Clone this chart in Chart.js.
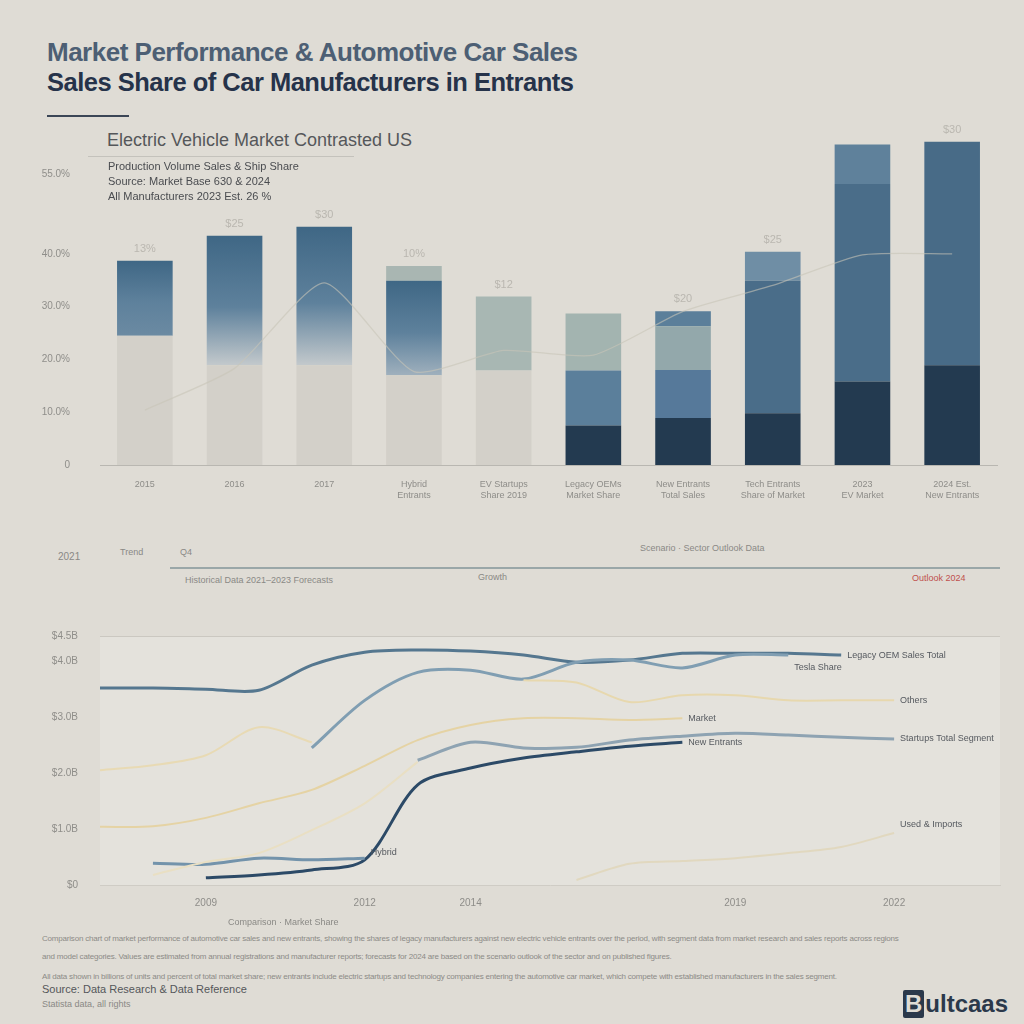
<!DOCTYPE html>
<html>
<head>
<meta charset="utf-8">
<script src="https://cdn.jsdelivr.net/npm/chart.js@4.4.1/dist/chart.umd.min.js"></script>
<style>
  html, body { margin: 0; padding: 0; }
  body { width: 1024px; height: 1024px; background: #dfdcd5; position: relative; overflow: hidden;
         font-family: "Liberation Sans", Arial, sans-serif; }
  .abs { position: absolute; white-space: nowrap; }
  #title1 { left: 47px; top: 37px; font-size: 26px; color: #4d5f74; font-weight: 600; letter-spacing: -0.5px; }
  #title2 { left: 47px; top: 68px; font-size: 25.5px; color: #26334a; font-weight: 700; letter-spacing: -0.5px; }
  #rule { left: 47px; top: 115px; width: 82px; height: 2px; background: #3b4656; }
  #subtitle { left: 107px; top: 130px; font-size: 18px; color: #55575a; }
  #subrule { left: 88px; top: 156px; width: 266px; height: 1px; background: #c4c2bc; }
  .legendline { left: 108px; font-size: 11px; color: #4a4c50; }
  #timeline { left: 170px; top: 567px; width: 830px; height: 2px; background: #9aa7a8; }
  .tiny { font-size: 9px; color: #8a8985; }
  .para { left: 42px; font-size: 8px; color: #8c8b87; letter-spacing: -0.2px; }
  #logo { left: 903px; top: 990px; font-size: 24px; font-weight: 700; color: #2b394b; }
  #logo span.box { display: inline-block; background: #2b394b; color: #dfdcd5; padding: 0 2px; border-radius: 2px; margin-right: 1px; }
</style>
</head>
<body>
<div class="abs" id="title1">Market Performance &amp; Automotive Car Sales</div>
<div class="abs" id="title2">Sales Share of Car Manufacturers in Entrants</div>
<div class="abs" id="rule"></div>
<div class="abs" id="subtitle">Electric Vehicle Market Contrasted US</div>
<div class="abs" id="subrule"></div>

<canvas id="barChart" class="abs" style="left:20px;top:107px" width="990" height="398"></canvas>

<div class="abs legendline" style="top:160px">Production Volume Sales &amp; Ship Share</div>
<div class="abs legendline" style="top:175px">Source: Market Base 630 &amp; 2024</div>
<div class="abs legendline" style="top:190px">All Manufacturers 2023 Est. 26 %</div>

<div class="abs tiny" style="left:58px;top:551px;font-size:10px">2021</div>
<div class="abs tiny" style="left:120px;top:547px">Trend</div>
<div class="abs tiny" style="left:180px;top:547px">Q4</div>
<div class="abs tiny" style="left:185px;top:575px">Historical Data 2021–2023 Forecasts</div>
<div class="abs tiny" style="left:640px;top:543px">Scenario · Sector Outlook Data</div>
<div class="abs tiny" style="left:478px;top:572px">Growth</div>
<div class="abs" id="timeline"></div>
<div class="abs tiny" style="left:912px;top:573px;color:#c0504d">Outlook 2024</div>

<canvas id="lineChart" class="abs" style="left:0px;top:608px" width="1024" height="312"></canvas>

<div class="abs tiny" style="left:228px;top:917px">Comparison · Market Share</div>
<div class="abs para" style="top:934px">Comparison chart of market performance of automotive car sales and new entrants, showing the shares of legacy manufacturers against new electric vehicle entrants over the period, with segment data from market research and sales reports across regions</div>
<div class="abs para" style="top:952px">and model categories. Values are estimated from annual registrations and manufacturer reports; forecasts for 2024 are based on the scenario outlook of the sector and on published figures.</div>
<div class="abs para" style="top:972px">All data shown in billions of units and percent of total market share; new entrants include electric startups and technology companies entering the automotive car market, which compete with established manufacturers in the sales segment.</div>
<div class="abs" style="left:42px;top:983px;font-size:11px;color:#55575a">Source: Data Research &amp; Data Reference</div>
<div class="abs tiny" style="left:42px;top:999px">Statista data, all rights</div>
<div class="abs" id="logo"><span class="box">B</span>ultcaas</div>

<script>
// top chart: stacked bars
const barCategories = ['2015', '2016', '2017', ['Hybrid', 'Entrants'], ['EV Startups', 'Share 2019'],
  ['Legacy OEMs', 'Market Share'], ['New Entrants', 'Total Sales'], ['Tech Entrants', 'Share of Market'],
  ['2023', 'EV Market'], ['2024 Est.', 'New Entrants']];
const navySeg = [0, 0, 0, 0, 0, 0.75, 0.89, 0.98, 1.58, 1.89];
const beigeSeg = [2.45, 1.89, 1.89, 1.70, 1.79, 0, 0, 0, 0, 0];
const blueSeg = [1.42, 2.45, 2.62, 1.79, 0, 1.04, 0.91, 2.51, 3.74, 4.23];
const sageSeg = [0, 0, 0, 0.28, 1.40, 1.08, 0.83, 0, 0, 0];
const topSeg = [0, 0, 0, 0, 0, 0, 0.28, 0.55, 0.75, 0];
const trendLine = [1.04, 1.83, 3.45, 1.77, 2.17, 2.08, 2.91, 3.40, 3.98, 4.0];
const barLabels = ['13%', '$25', '$30', '10%', '$12', '', '$20', '$25', '', '$30'];
const barTicks = [0, 1, 2, 3, 4, 5.5];
const barTickLabels = ['0', '10.0%', '20.0%', '30.0%', '40.0%', '55.0%'];

// bottom chart: lines
const lineYears = ['2007', '2008', '2009', '2010', '2011', '2012', '2013', '2014', '2015',
  '2016', '2017', '2018', '2019', '2020', '2021', '2022', '2023', '2024'];
const shownYears = [2, 5, 7, 12, 15];
const legacySales = [3.52, 3.52, 3.50, 3.48, 3.93, 4.16, 4.20, 4.18, 4.11, 3.98, 4.02, 4.14, 4.14, 4.14, 4.11, null, null, null];
const teslaSales = [null, null, null, null, 2.45, 3.30, 3.80, 3.84, 3.68, 3.98, 4.02, 3.88, 4.11, 4.11, null, null, null, null];
const entrantSales = [null, null, 0.13, 0.18, 0.27, 0.45, 1.79, 2.09, 2.27, 2.38, 2.48, 2.55, null, null, null, null, null, null];
const hybridSales = [null, 0.39, 0.37, 0.48, 0.45, 0.48, null, null, null, null, null, null, null, null, null, null, null, null];
const startupSales = [null, null, null, null, null, null, 2.23, 2.55, 2.45, 2.46, 2.59, 2.66, 2.71, 2.68, 2.64, 2.61, null, null];
const dieselSales = [2.05, 2.14, 2.32, 2.82, 2.55, null, null, null, null, null, null, null, null, null, null, null, null, null];
const importSales = [1.04, 1.05, 1.20, 1.46, 1.70, 2.13, 2.59, 2.86, 2.98, 2.98, 2.95, 2.98, null, null, null, null, null, null];
const leaseSales = [null, 0.18, 0.41, 0.57, 0.98, 1.46, 2.20, null, null, null, null, null, null, null, null, null, null, null];
const otherSales = [null, null, null, null, null, null, null, null, 3.66, 3.62, 3.27, 3.39, 3.39, 3.30, 3.30, 3.30, null, null];
const usedSales = [null, null, null, null, null, null, null, null, null, 0.09, 0.38, 0.43, 0.48, 0.57, 0.68, 0.93, null, null];
const lineTicks = [0, 1, 2, 3, 4, 4.45];
const lineTickLabels = ['$0', '$1.0B', '$2.0B', '$3.0B', '$4.0B', '$4.5B'];

const blueFade = ['#6b8aa2', '#c3c9cc', '#c3c9cc', '#9fb0bd'];
const blueSolid = ['', '', '', '', '#5b7f9b', '#5b7f9b', '#56799a', '#4a6d89', '#4a6d89', '#486b87'];
const sageColors = ['', '', '', '#a9b6b2', '#a8b7b3', '#a3b4b0', '#93a8ab', '', '', ''];
const topColors = ['', '', '', '', '', '', '#5b7f9a', '#6f8ea5', '#5f819b', ''];

const barValueLabels = {
  id: 'barValueLabels',
  afterDatasetsDraw(chart) {
    const { ctx, scales } = chart;
    ctx.save();
    ctx.font = '11px "Liberation Sans"';
    ctx.fillStyle = '#bab7b0';
    ctx.textAlign = 'center';
    barCategories.forEach((c, i) => {
      const total = navySeg[i] + beigeSeg[i] + blueSeg[i] + sageSeg[i] + topSeg[i];
      ctx.fillText(barLabels[i], scales.x.getPixelForValue(i), scales.y.getPixelForValue(total) - 9);
    });
    ctx.restore();
  }
};

new Chart(document.getElementById('barChart'), {
  data: {
    labels: barCategories,
    datasets: [
      { type: 'line', label: 'Trend', data: trendLine, stack: 'trend', order: 0,
        borderColor: 'rgba(200,196,184,0.6)', borderWidth: 1.3, pointRadius: 0, tension: 0.2 },
      { type: 'bar', label: 'Legacy', data: navySeg, order: 1, backgroundColor: '#233a50' },
      { type: 'bar', label: 'Base', data: beigeSeg, order: 1, backgroundColor: '#d3d0c9' },
      { type: 'bar', label: 'EV', data: blueSeg, order: 1,
        backgroundColor: (ctx) => {
          const i = ctx.dataIndex;
          if (i >= blueFade.length) return blueSolid[i] || '#4a6d89';
          const chart = ctx.chart;
          const y = chart.scales.y;
          if (!chart.chartArea || !y) return '#4a6f8c';
          const base = beigeSeg[i];
          const g = chart.ctx.createLinearGradient(0, y.getPixelForValue(base + blueSeg[i]), 0, y.getPixelForValue(base));
          g.addColorStop(0, '#3f6785');
          g.addColorStop(0.55, '#5e819c');
          g.addColorStop(1, blueFade[i]);
          return g;
        } },
      { type: 'bar', label: 'Hybrid', data: sageSeg, order: 1, backgroundColor: (ctx) => sageColors[ctx.dataIndex] || '#a8b7b3' },
      { type: 'bar', label: 'Other', data: topSeg, order: 1, backgroundColor: (ctx) => topColors[ctx.dataIndex] || '#5f819b' }
    ]
  },
  options: {
    responsive: false,
    animation: false,
    layout: { padding: { top: 9, right: 13, left: 0, bottom: 0 } },
    datasets: { bar: { categoryPercentage: 1, barPercentage: 0.62 } },
    plugins: { legend: { display: false }, tooltip: { enabled: false } },
    scales: {
      x: {
        stacked: true,
        grid: { display: false },
        border: { color: '#b9b7b1' },
        ticks: { color: '#8e8d89', font: { size: 9 }, maxRotation: 0, autoSkip: false, padding: 6 },
        afterFit: (s) => { s.height = 40; }
      },
      y: {
        stacked: true,
        min: 0, max: 6.25,
        grid: { display: false },
        border: { display: false },
        afterBuildTicks: (s) => { s.ticks = barTicks.map(v => ({ value: v })); },
        ticks: { color: '#8f8e8a', font: { size: 10 }, padding: 22,
          callback: (v) => barTickLabels[barTicks.indexOf(v)] },
        afterFit: (s) => { s.width = 80; }
      }
    }
  },
  plugins: [barValueLabels]
});

const panelBg = {
  id: 'panelBg',
  beforeDraw(chart) {
    const { ctx, chartArea } = chart;
    ctx.save();
    ctx.fillStyle = '#e4e2dc';
    ctx.fillRect(chartArea.left, chartArea.top, chartArea.right - chartArea.left, chartArea.bottom - chartArea.top);
    ctx.restore();
  }
};

const endLabels = {
  id: 'endLabels',
  afterDatasetsDraw(chart) {
    const { ctx } = chart;
    ctx.save();
    ctx.font = '9px "Liberation Sans"';
    ctx.fillStyle = '#55595f';
    ctx.textBaseline = 'middle';
    chart.data.datasets.forEach((ds, di) => {
      const meta = chart.getDatasetMeta(di);
      let last = -1;
      ds.data.forEach((v, i) => { if (v !== null) last = i; });
      if (last < 0 || !ds.endText) return;
      const p = meta.data[last];
      ctx.fillText(ds.endText, p.x + 6, p.y + (ds.endDy || 0));
    });
    ctx.restore();
  }
};

function lineSet(label, data, color, width, endText, endDy) {
  return { label, data, borderColor: color, borderWidth: width, pointRadius: 0, tension: 0.3,
    spanGaps: false, endText, endDy };
}

new Chart(document.getElementById('lineChart'), {
  type: 'line',
  data: {
    labels: lineYears,
    datasets: [
      lineSet('Used', usedSales, '#e1d8bf', 2, 'Used & Imports', -8),
      lineSet('Other', otherSales, '#e7d8ae', 2, 'Others', 0),
      lineSet('Lease', leaseSales, '#e9dfc3', 2, '', 0),
      lineSet('Imports', importSales, '#e5d3a4', 2, 'Market', 0),
      lineSet('Diesel', dieselSales, '#e8dab4', 2, '', 0),
      lineSet('Hybrid', hybridSales, '#7393ab', 3, 'Hybrid', -6),
      lineSet('Startups', startupSales, '#8ea3b2', 3, 'Startups Total Segment', 0),
      lineSet('Entrants', entrantSales, '#2c4a67', 3, 'New Entrants', 0),
      lineSet('Tesla', teslaSales, '#809eb2', 3, 'Tesla Share', 12),
      lineSet('Legacy', legacySales, '#55778f', 3, 'Legacy OEM Sales Total', 0)
    ]
  },
  options: {
    responsive: false,
    animation: false,
    layout: { padding: { top: 16, right: 24, left: 0, bottom: 0 } },
    plugins: { legend: { display: false }, tooltip: { enabled: false } },
    scales: {
      x: {
        grid: { display: false },
        border: { color: '#cfccc5' },
        ticks: { color: '#8e8d89', font: { size: 10 }, autoSkip: false, maxRotation: 0, padding: 4,
          callback: (v, i) => shownYears.includes(i) ? lineYears[i] : '' },
        afterFit: (s) => { s.height = 35; }
      },
      y: {
        min: 0, max: 4.45,
        border: { display: false },
        grid: { drawTicks: false, color: (ctx) => ctx.tick && ctx.tick.value === 4.45 ? '#cbc8c1' : 'rgba(0,0,0,0)' },
        afterBuildTicks: (s) => { s.ticks = lineTicks.map(v => ({ value: v })); },
        ticks: { color: '#8f8e8a', font: { size: 10 }, padding: 22,
          callback: (v) => lineTickLabels[lineTicks.indexOf(v)] },
        afterFit: (s) => { s.width = 100; }
      }
    }
  },
  plugins: [panelBg, endLabels]
});
</script>
</body>
</html>
